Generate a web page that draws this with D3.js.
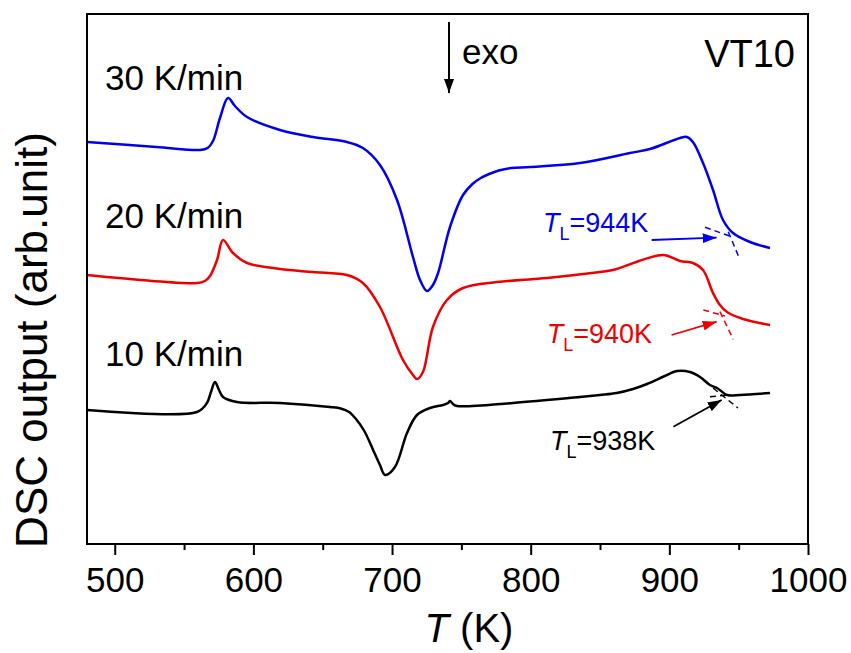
<!DOCTYPE html>
<meta charset="utf-8">
<style>
body { margin: 0; background: #fff; }
svg text { font-family: "Liberation Sans", Arial, sans-serif; }
.frame { fill: none; stroke: #000; stroke-width: 2px; }
.curve { fill: none; stroke-width: 2.5px; stroke-linejoin: round; }
.tangent { fill: none; stroke-width: 1.5px; stroke-dasharray: 6 4; }
.axis path { display: none; }
.axis line { stroke: #000; stroke-width: 2px; }
.axis text { font-size: 35px; fill: #000; }
</style>
<svg width="851" height="653"></svg>
<script src="https://d3js.org/d3.v7.min.js"></script>
<script>

var svg = d3.select("svg");

var margin = {left: 87, right: 808, top: 14, bottom: 544};

// 30 K/min (blue)
var temp30 = [480, 530, 561.5, 567, 570.9, 575.9, 581.7, 586.7, 595.4, 619.2, 643, 667.5, 679, 691.3, 703.6, 715.1, 720.2, 725.2, 729.5, 733.2, 741.8, 751.2, 758, 764, 770, 777, 786, 799.5, 835.6, 871.6, 886, 907.7, 912.7, 917, 924.3, 931.5, 938.7, 945.9, 958.2, 972.6];
var dsc30  = [402, 397, 394, 396, 403, 426, 446, 438, 427, 414, 407, 402, 396, 379, 344, 287, 264, 253, 259, 271, 317, 349, 360, 366, 370, 373.5, 376, 377, 381, 391, 395, 406, 407, 402, 381, 354, 324, 311, 302, 296];

// 20 K/min (red)
var temp20 = [480, 559.3, 565, 568.7, 573.8, 578.1, 585.3, 595.4, 619.2, 643, 667.5, 679, 691.3, 707.9, 715.1, 718, 722.3, 729.5, 739.6, 751.2, 775.7, 811.8, 850, 859.4, 895.4, 907.7, 917, 924.3, 931.5, 936.5, 941.6, 953.1, 972.6];
var dsc20  = [269, 261, 263, 268, 284, 304, 291, 281, 275, 272, 269, 261, 237, 184, 169, 165, 172, 217, 244, 256, 262, 266, 272, 274, 289, 283, 281, 274, 251, 239, 232, 225, 219];

// 10 K/min (black)
var temp10 = [480, 559.3, 566.5, 569.4, 572.3, 575.2, 578.1, 588.2, 619.2, 655.3, 663, 669, 674, 680, 687, 691.3, 694.9, 702.1, 710.8, 718, 727.4, 736.8, 740.4, 741.8, 744, 746.9, 787.2, 835.6, 850, 862, 873.8, 883.9, 898.3, 905.5, 914.9, 922.1, 929.3, 934.4, 941.6, 951, 972.6];
var dsc10  = [134, 132, 141, 152, 162, 154, 147, 142, 141, 137, 135.5, 132, 125, 113, 92, 79, 69, 77, 111, 129, 136, 139, 141, 143, 140, 138, 141, 147, 149, 151, 155, 160, 169, 173, 172, 167, 159, 156, 149, 149, 151];

var xTicks = [500, 600, 700, 800, 900, 1000];
var xMinorTicks = [550, 650, 750, 850, 950];

var rateLabels = ["30 K/min", "20 K/min", "10 K/min"];
var rateLabelPos = [[493, 454], [493, 316], [493, 178]];
var colors = ["#0000ee", "#ee0000", "#000000"];

// liquidus annotations: label, label pos, arrow, two tangent lines
var tlValues = ["=944K", "=940K", "=938K"];
var tlLabelPos = [[808.9, 312], [811.6, 201], [813.9, 94]];
var tlArrows = [
  [[887.2, 304], [934.1, 306.3]],
  [[901.6, 209], [934.1, 222.3]],
  [[902.9, 117.3], [937.7, 144]]
];
var tlTangentA = [
  [[925.7, 316.7], [944.9, 307.3]],
  [[924.5, 234], [940.2, 228]],
  [[929.3, 147.3], [943.8, 149]]
];
var tlTangentB = [
  [[942.5, 312.3], [950.5, 285.7]],
  [[936.5, 232.3], [946.1, 204.7]],
  [[931.5, 156], [949.5, 136]]
];

var x = d3.scaleLinear().domain([480, 1000]).range([margin.left, margin.right]);
var y = d3.scaleLinear().domain([0, 530]).range([margin.bottom, margin.top]);

var defs = svg.append("defs");
colors.forEach(function(c, i) {
  defs.append("marker")
      .attr("id", "head" + i)
      .attr("markerUnits", "userSpaceOnUse")
      .attr("viewBox", "0 0 14 10")
      .attr("refX", 14).attr("refY", 5)
      .attr("markerWidth", 14).attr("markerHeight", 10)
      .attr("orient", "auto")
    .append("path")
      .attr("d", "M0,0L14,5L0,10Z")
      .attr("fill", c);
});

// axis
var xAxis = svg.append("g")
    .attr("class", "axis")
    .attr("transform", "translate(0," + margin.bottom + ")")
    .call(d3.axisBottom(x).tickValues(xTicks).tickSize(11).tickPadding(12).tickFormat(d3.format("d")));
xAxis.selectAll("text").attr("dy", "0.71em");

svg.append("g")
    .attr("class", "axis")
    .attr("transform", "translate(0," + margin.bottom + ")")
    .call(d3.axisBottom(x).tickValues(xMinorTicks).tickSize(6).tickFormat(""));

// curves
var line = d3.line()
    .x(function(d) { return x(d[0]); })
    .y(function(d) { return y(d[1]); })
    .curve(d3.curveCatmullRom.alpha(0.5));

var series = [d3.zip(temp30, dsc30), d3.zip(temp20, dsc20), d3.zip(temp10, dsc10)];

svg.append("g").selectAll("path")
    .data(series)
    .enter().append("path")
      .attr("class", "curve")
      .attr("stroke", function(d, i) { return colors[i]; })
      .attr("d", line);

// rate labels
svg.append("g").selectAll("text")
    .data(rateLabels)
    .enter().append("text")
      .attr("x", function(d, i) { return x(rateLabelPos[i][0]); })
      .attr("y", function(d, i) { return y(rateLabelPos[i][1]); })
      .attr("font-size", 35)
      .text(function(d) { return d; });

// liquidus annotations
var segLine = d3.line()
    .x(function(d) { return x(d[0]); })
    .y(function(d) { return y(d[1]); });

colors.forEach(function(c, i) {
  var g = svg.append("g");
  g.append("path").attr("class", "tangent").attr("stroke", c).attr("d", segLine(tlTangentA[i]));
  g.append("path").attr("class", "tangent").attr("stroke", c).attr("d", segLine(tlTangentB[i]));
  g.append("path")
      .attr("fill", "none").attr("stroke", c).attr("stroke-width", 1.8)
      .attr("marker-end", "url(#head" + i + ")")
      .attr("d", segLine(tlArrows[i]));
  var t = g.append("text")
      .attr("x", x(tlLabelPos[i][0]))
      .attr("y", y(tlLabelPos[i][1]))
      .attr("font-size", 27)
      .attr("fill", c);
  t.append("tspan").attr("font-style", "italic").text("T");
  t.append("tspan").attr("font-size", 18).attr("dy", 8).text("L");
  t.append("tspan").attr("dy", -8).text(tlValues[i]);
});

// exo arrow
svg.append("path")
    .attr("fill", "none").attr("stroke", "#000").attr("stroke-width", 2)
    .attr("marker-end", "url(#head2)")
    .attr("d", segLine([[741.1, 522], [741.1, 451]]));
svg.append("text")
    .attr("x", x(750.5)).attr("y", y(480))
    .attr("font-size", 35)
    .text("exo");

svg.append("text")
    .attr("x", 795).attr("y", 67)
    .attr("text-anchor", "end")
    .attr("font-size", 38)
    .text("VT10");

// frame
svg.append("rect")
    .attr("class", "frame")
    .attr("x", margin.left).attr("y", margin.top)
    .attr("width", margin.right - margin.left)
    .attr("height", margin.bottom - margin.top);

// axis titles
var xt = svg.append("text")
    .attr("x", 469).attr("y", 642)
    .attr("text-anchor", "middle")
    .attr("font-size", 40);
xt.append("tspan").attr("font-style", "italic").text("T");
xt.append("tspan").text(" (K)");

svg.append("text")
    .attr("transform", "translate(47,340) rotate(-90)")
    .attr("text-anchor", "middle")
    .attr("font-size", 44)
    .text("DSC output (arb.unit)");

</script>
